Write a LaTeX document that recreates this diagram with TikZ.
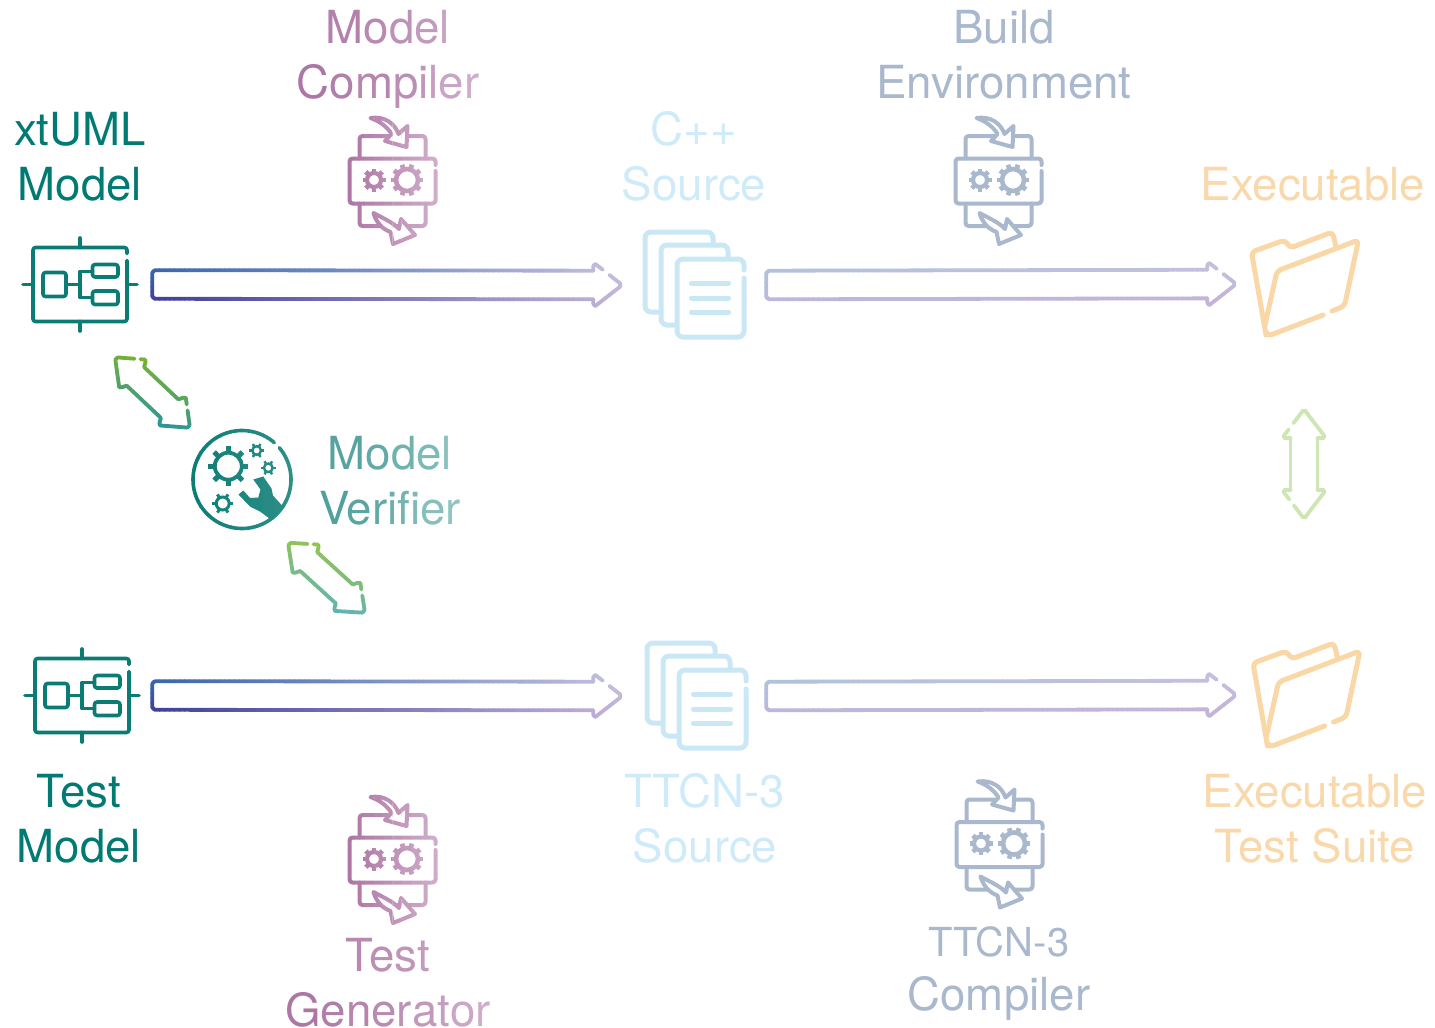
\documentclass[tikz,border=0pt]{standalone}
\usepackage{fontspec}
\setmainfont{TeX Gyre Heros}
\usetikzlibrary{calc}
\definecolor{tealc}{HTML}{0A7C74}
\definecolor{tealtxt}{HTML}{007A72}
\definecolor{docc}{HTML}{C9E7F5}
\definecolor{doctxt}{HTML}{CFEBFA}
\definecolor{foldc}{HTML}{F9D7A6}
\definecolor{foldtxt}{HTML}{F9D8AC}
\definecolor{slatec}{HTML}{A9B8CD}
\definecolor{plumL}{HTML}{AB73A2}
\definecolor{plumR}{HTML}{D1B0CC}
\definecolor{verL}{HTML}{4C9D99}
\definecolor{verR}{HTML}{93C7C4}
\definecolor{iblue}{HTML}{3A66AD}
\definecolor{iindigo}{HTML}{40409A}
\definecolor{lavT}{HTML}{C4C0DE}
\definecolor{lavB}{HTML}{C4B4D8}
\definecolor{slT}{HTML}{B2C2DB}
\definecolor{slB}{HTML}{BAB8DC}
\definecolor{greenA}{HTML}{88B81F}
\definecolor{blueA}{HTML}{1B8FB0}
\definecolor{greenB}{HTML}{9CC73F}
\definecolor{blueB}{HTML}{58B0C8}
\definecolor{paleV}{HTML}{CDE6B4}
\ExplSyntaxOn
\NewDocumentCommand\gradtext{mmmmm}{
  \int_set:Nn \l_tmpa_int {\tl_count:n{#5}}
  \int_zero:N \l_tmpb_int
  \tl_map_inline:nn {#5}{
    \edef\gtmix{#2!\fp_eval:n{round(100*(#3+(#4-#3)*(\l_tmpb_int+0.5)/\l_tmpa_int),1)}!#1}
    \textcolor{\gtmix}{##1}
    \int_incr:N \l_tmpb_int
  }
}
\ExplSyntaxOff
% ---------- gradient outline arrows: frame + subdivided segments
\newcommand\setframe[3]{%
  \path let \p1=(#1), \p2=(#2), \n1={veclen(\x2-\x1,\y2-\y1)} in \pgfextra{%
    \pgfmathsetmacro\tmpa{\x1}\xdef\frAx{\tmpa}%
    \pgfmathsetmacro\tmpa{\y1}\xdef\frAy{\tmpa}%
    \pgfmathsetmacro\tmpa{\n1}\xdef\frL{\tmpa}%
    \pgfmathsetmacro\tmpa{(\x2-\x1)/\n1}\xdef\frUx{\tmpa}%
    \pgfmathsetmacro\tmpa{(\y2-\y1)/\n1}\xdef\frUy{\tmpa}%
    \xdef\frH{#3}%
  };%
}
\newcommand\setcols[4]{\colorlet{cTL}{#1}\colorlet{cTR}{#2}\colorlet{cBL}{#3}\colorlet{cBR}{#4}}
\newcommand\gseg[4]{%
  \pgfmathsetmacro\gsA{#1}\pgfmathsetmacro\gtA{#2}\pgfmathsetmacro\gsB{#3}\pgfmathsetmacro\gtB{#4}%
  \pgfmathsetmacro\gl{veclen(\gsB-\gsA,\gtB-\gtA)}%
  \pgfmathtruncatemacro\gn{max(1,ceil(\gl/5))}%
  \foreach \k in {1,...,\gn}{%
    \pgfmathsetmacro\fa{(\k-1)/\gn}\pgfmathsetmacro\fb{\k/\gn}%
    \pgfmathsetmacro\sa{\gsA+(\gsB-\gsA)*\fa}%
    \pgfmathsetmacro\ta{\gtA+(\gtB-\gtA)*\fa}%
    \pgfmathsetmacro\sb{\gsA+(\gsB-\gsA)*\fb}%
    \pgfmathsetmacro\tb{\gtA+(\gtB-\gtA)*\fb}%
    \pgfmathsetmacro\pp{min(100,max(0,100*(0.5*\sa/\frL+0.5*\sb/\frL)))}%
    \pgfmathsetmacro\qq{min(100,max(0,50*(1+(0.5*\ta+0.5*\tb)/\frH)))}%
    \colorlet{gtop}{cTR!\pp!cTL}\colorlet{gbot}{cBR!\pp!cBL}\colorlet{gmix}{gtop!\qq!gbot}%
    \pgfmathsetmacro\xa{\frAx+\sa*\frUx-\ta*\frUy}%
    \pgfmathsetmacro\ya{\frAy+\sa*\frUy+\ta*\frUx}%
    \pgfmathsetmacro\xb{\frAx+\sb*\frUx-\tb*\frUy}%
    \pgfmathsetmacro\yb{\frAy+\sb*\frUy+\tb*\frUx}%
    \draw[outl,gmix] (\xa pt,\ya pt) -- (\xb pt,\yb pt);%
  }%
}
% #1 from #2 to #3-#6 corner colours
\newcommand\mainarrow[6]{%
  \setframe{#1}{#2}{14.3}\setcols{#3}{#4}{#5}{#6}%
  \gseg{2.5}{14.3}{\frL-29}{14.3}%
  \gseg{\frL-29}{14.3}{\frL-29}{19}%
  \gseg{\frL-29}{19}{\frL-27}{21}%
  \gseg{\frL-27}{21}{\frL-19.5}{15.2}%
  \gseg{\frL-13}{10.1}{\frL-2}{1.5}%
  \gseg{\frL-2}{1.5}{\frL-2}{-1.5}%
  \gseg{\frL-2}{-1.5}{\frL-27}{-21}%
  \gseg{\frL-27}{-21}{\frL-29}{-19}%
  \gseg{\frL-29}{-19}{\frL-29}{-14.3}%
  \gseg{\frL-29}{-14.3}{2.5}{-14.3}%
  \gseg{2.5}{-14.3}{0}{-11.8}%
  \gseg{0}{-11.8}{0}{11.8}%
  \gseg{0}{11.8}{2.5}{14.3}%
}
\newcommand\dblarrow[8]{%
  \setframe{#1}{#2}{#4}%
  \pgfmathsetmacro\pw{#3}\pgfmathsetmacro\ph{#4}\pgfmathsetmacro\pl{#5}\pgfmathsetmacro\pn{#6}%
  \dblbody{#7}{#8}%
}
\newcommand\dblbody[2]{\dblbodyb#1;#2;}
\def\dblbodyb#1/#2;#3/#4;{%
  \gseg{2}{\ph*2/\pl}{\pl*#1}{\ph*#1}%
  \gseg{\pl*#2}{\ph*#2}{\pl-2}{\ph-2*\ph/\pl}%
  \gseg{\pl-2}{\ph-2*\ph/\pl}{\pl}{\ph-3}%
  \gseg{\pl}{\ph-3}{\pn}{\pw}%
  \gseg{\pn}{\pw}{\frL-\pn}{\pw}%
  \gseg{\frL-\pn}{\pw}{\frL-\pl}{\ph-3}%
  \gseg{\frL-\pl}{\ph-3}{\frL-\pl+2}{\ph-2*\ph/\pl}%
  \gseg{\frL-\pl+2}{\ph-2*\ph/\pl}{\frL-\pl+\pl*#3}{\ph*(1-#3)}%
  \gseg{\frL-\pl+\pl*#4}{\ph*(1-#4)}{\frL-2}{\ph*2/\pl}%
  \gseg{\frL-2}{\ph*2/\pl}{\frL-2}{-\ph*2/\pl}%
  \gseg{\frL-2}{-\ph*2/\pl}{\frL-\pl+2}{-\ph+2*\ph/\pl}%
  \gseg{\frL-\pl+2}{-\ph+2*\ph/\pl}{\frL-\pl}{-\ph+3}%
  \gseg{\frL-\pl}{-\ph+3}{\frL-\pn}{-\pw}%
  \gseg{\frL-\pn}{-\pw}{\pn}{-\pw}%
  \gseg{\pn}{-\pw}{\pl}{-\ph+3}%
  \gseg{\pl}{-\ph+3}{\pl-2}{-\ph+2*\ph/\pl}%
  \gseg{\pl-2}{-\ph+2*\ph/\pl}{2}{-\ph*2/\pl}%
  \gseg{2}{-\ph*2/\pl}{2}{\ph*2/\pl}%
}
% ---------- strip gradient for icons
\newcommand\stripped[5]{% x0, x1, colA, colB, code
  \pgfmathsetmacro\sdx{(#2-#1)/10}%
  \foreach \i in {0,...,9}{%
    \pgfmathsetmacro\sxa{#1+\i*\sdx-0.2}%
    \pgfmathsetmacro\sxb{#1+(\i+1)*\sdx+0.2}%
    \pgfmathsetmacro\sp{(\i+0.5)*10}%
    \colorlet{icol}{#4!\sp!#3}%
    \begin{scope}
      \clip (\sxa,-80) rectangle (\sxb,80);
      #5
    \end{scope}
  }%
}
\newcommand\gearat[7]{% cx cy ringr outerr n linewidth toothwidth
  \draw[icol,line width=#6pt] (#1,#2) circle[radius=#3];
  \pgfmathsetmacro\gstep{360/#5}%
  \foreach \ga in {1,...,#5}{%
    \pgfmathsetmacro\gan{\ga*\gstep}%
    \draw[icol,line width=#7pt,line cap=butt] ($(#1,#2)+(\gan:#3)$) -- ($(#1,#2)+(\gan:#4)$);
  }%
}
\newcommand\compicon{%
  \begin{scope}[ic/.style={icol,line width=4pt,line cap=round,line join=round,rounded corners=3pt}]
  \draw[ic] (43,-10) -- (43,22.5) -- (-43,22.5) -- (-43,-22.5) -- (43,-22.5) -- (43,-16);
  \draw[ic] (-33,-22.5) -- (-33,-45) -- (33,-45) -- (33,-22.5);
  \draw[ic] (-33,22.5) -- (-33,45) -- (33,45) -- (33,22.5);
  \draw[icol,fill=white,line width=4pt,line join=round] (-22,-63) .. controls (-8,-65) and (2,-58) .. (6,-47) -- (15,-55) -- (14,-34) -- (-7.5,-40) -- (-1,-47) .. controls (-5,-54) and (-13,-60) .. cycle;
  \draw[icol,fill=white,line width=4pt,line join=round] (-19,32) .. controls (-10,37) and (0,41) .. (6.5,48) -- (8.5,38) -- (22.5,54) -- (0.5,63) -- (-2,51) .. controls (-10,48) and (-16,42) .. cycle;
  \gearat{-18.5}{-1}{7}{11.5}{8}{4.2}{4.6}
  \gearat{14.5}{-1}{11}{16}{10}{4.6}{4.8}
  \end{scope}
}
\newcommand\modelicon{%
  \begin{scope}[ic/.style={tealc,line width=3.6pt,line cap=round,line join=round,rounded corners=2.5pt}]
  \draw[ic] (47,-24) -- (47,37) -- (-47,37) -- (-47,-37) -- (47,-37) -- (47,-31);
  \draw[ic] (0,-46.5) -- (0,-37);
  \draw[ic] (0,37) -- (0,46.5);
  \draw[ic] (-57,0) -- (-47,0);
  \draw[ic] (47,0) -- (57,0);
  \draw[ic] (-37,-12) rectangle (-14,12);
  \draw[ic] (12.5,-20) rectangle (38,-7.5);
  \draw[ic] (12.5,6.5) rectangle (38,20);
  \draw[ic] (-14,0) -- (0,0);
  \draw[ic,rounded corners=0pt] (12.5,-13) -- (0,-13) -- (0,13) -- (12.5,13);
  \end{scope}
}
\newcommand\docicon{%
  \begin{scope}[ic/.style={docc,line width=5pt,line cap=round,line join=round,rounded corners=6pt}]
  \draw[ic] (-36,27) -- (-50,27) -- (-50,-53) -- (18,-53) -- (18,-42);
  \draw[ic] (-20,40) -- (-34,40) -- (-34,-40) -- (33,-40) -- (33,-28);
  \draw[ic] (49,-7) -- (49,52) -- (-18,52) -- (-18,-26) -- (49,-26) -- (49,-15);
  \draw[ic] (-3.5,-2) -- (33.5,-2);
  \draw[ic] (-3.5,13) -- (33.5,13);
  \draw[ic] (-3.5,27) -- (33.5,27);
  \end{scope}
}
\newcommand\foldicon{%
  \begin{scope}[ic/.style={foldc,line width=5pt,line cap=round,line join=round,rounded corners=4pt}]
  \draw[ic] (-39.5,51) -- (-54,-32) -- (-20.5,-44) -- (-15.5,-36) -- (27,-52) -- (30.5,-37);
  \draw[ic] (-40.5,41) -- (-28.5,-13) -- (53,-44) -- (39,22) -- (26.5,27);
  \draw[ic] (17.5,31) -- (-37.5,52) -- (-39.5,48);
  \end{scope}
}
\newcommand\verifyicon{%
  \begin{scope}[ic/.style={icol,line width=3.6pt,line cap=round,line join=round}]
  \draw[ic] plot[domain=-400.5:-48.8,samples=90] (\x:49);
  \gearat{-13.7}{-13.3}{13.5}{20}{8}{3.8}{5}
  \gearat{14.7}{-29}{4.3}{7.5}{6}{2.4}{2.4}
  \gearat{26.3}{-11.7}{4.3}{7.5}{6}{2.4}{2.4}
  \gearat{-19.3}{24}{6.5}{10.5}{6}{3}{3}
  \fill[icol] (11.3,0) -- (21.3,-3) -- (29.5,9) -- (31,16) -- (40.5,26.5) -- (29.5,40.5) -- (18,32) -- (8,27) -- (-3.5,15) -- (1.3,11) -- (8,18.5) -- (16.3,18) -- (18.5,10) -- cycle;
  \end{scope}
}
\tikzset{
  outl/.style={line width=3.8pt,line cap=round},
  iconbox/.style={inner sep=0pt,minimum width=#1},
  lab/.style={inner sep=0pt,align=center,anchor=base,font=\fontsize{45.6}{55}\selectfont},
}
\begin{document}
\begin{tikzpicture}[x=1pt,y=-1pt]
\useasboundingbox (0,0) rectangle (1435,1028);
% anchor nodes of the icons
\node[iconbox=116pt,minimum height=95pt] (xtuml) at (80,284.5) {};
\node[iconbox=104pt,minimum height=110pt] (csrc) at (695,285) {};
\node[iconbox=110pt,minimum height=108pt] (exe) at (1305.5,284) {};
\node[iconbox=116pt,minimum height=95pt] (tmodel) at (82,695.5) {};
\node[iconbox=104pt,minimum height=110pt] (tsrc) at (697,696) {};
\node[iconbox=110pt,minimum height=108pt] (tsuite) at (1307,695) {};
\node[iconbox=104pt,minimum height=104pt] (verifier) at (242,479.5) {};
\node[iconbox=92pt,minimum height=130pt] (mcomp) at (392.5,181) {};
\node[iconbox=92pt,minimum height=130pt] (build) at (998.5,181) {};
\node[iconbox=92pt,minimum height=130pt] (tgen) at (392.5,860) {};
\node[iconbox=92pt,minimum height=130pt] (tcomp) at (999.5,844.5) {};
% icons
\begin{scope}[shift={(xtuml.center)}]\modelicon\end{scope}
\begin{scope}[shift={(tmodel.center)}]\modelicon\end{scope}
\begin{scope}[shift={(csrc.center)}]\docicon\end{scope}
\begin{scope}[shift={(tsrc.center)}]\docicon\end{scope}
\begin{scope}[shift={(exe.center)}]\foldicon\end{scope}
\begin{scope}[shift={(tsuite.center)}]\foldicon\end{scope}
\begin{scope}[shift={(mcomp.center)}]\stripped{-47}{47}{plumL}{plumR}{\compicon}\end{scope}
\begin{scope}[shift={(tgen.center)}]\stripped{-47}{47}{plumL}{plumR}{\compicon}\end{scope}
\begin{scope}[shift={(build.center)}]\colorlet{icol}{slatec}\compicon\end{scope}
\begin{scope}[shift={(tcomp.center)}]\colorlet{icol}{slatec}\compicon\end{scope}
\begin{scope}[shift={(verifier.center)}]\stripped{-53}{53}{tealc}{tealc!85!white}{\verifyicon}\end{scope}
% labels
\node[lab] (lmc) at (388,98) {\gradtext{plumL}{plumR}{0.16}{0.84}{Model}\\\gradtext{plumL}{plumR}{0}{1}{Compiler}};
\node[lab,text=tealtxt] (lxt) at (80,200) {xtUML\\Model};
\node[lab,text=doctxt] (lcs) at (694,200) {C++\\Source};
\node[lab,text=slatec] (lbe) at (1004,98) {Build\\Environment};
\node[lab,text=foldtxt] (lex) at (1313,200) {Executable};
\node[lab] (lmv) at (390,524) {\gradtext{verL}{verR}{0.05}{0.95}{Model}\\\gradtext{verL}{verR}{0}{1}{V{\kern-3pt e}rifier}};
\node[lab,text=tealtxt] (ltm) at (79,862) {Test\\Model};
\node[lab,text=doctxt] (lts) at (705,862) {TTCN-3\\Source};
\node[lab,text=foldtxt] (lets) at (1315,862) {Executable\\Test Suite};
\node[lab] (ltg) at (388,1026) {\gradtext{plumL}{plumR}{0.3}{0.7}{T{\kern-4pt e}st}\\\gradtext{plumL}{plumR}{0}{1}{Generator}};
\node[lab,text=slatec,font=\fontsize{40}{40}\selectfont] (ltc1) at (999,956) {TTCN-3};
\node[lab,text=slatec] (ltc2) at (999,1010) {Compiler};
% connectors
\mainarrow{$(xtuml.east)+(14,0)$}{$(csrc.west)+(-20.5,0)$}{iblue}{lavT}{iindigo}{lavB}
\mainarrow{$(csrc.east)+(19,0)$}{$(exe.west)+(-14,0)$}{slT}{lavT}{slB}{lavB}
\mainarrow{$(tmodel.east)+(12,0)$}{$(tsrc.west)+(-22.5,0)$}{iblue}{lavT}{iindigo}{lavB}
\mainarrow{$(tsrc.east)+(17,0)$}{$(tsuite.west)+(-15.5,0)$}{slT}{lavT}{slB}{lavB}
\setcols{greenA}{greenA!50!blueA}{greenA!55!blueA}{blueA}
\dblarrow{$(xtuml.south)+(35,25)$}{$(verifier.north)+(-52,0.5)$}{12.7}{20.5}{25.5}{28}{0.6/0.78}{0.28/0.46}
\setcols{greenB}{greenB!50!blueB}{greenB!55!blueB}{blueB}
\dblarrow{$(verifier.south)+(46,11)$}{$(tgen.north)+(-27.5,-182)$}{12.7}{20.5}{25.5}{28}{0.6/0.78}{0.28/0.46}
\setcols{paleV}{paleV}{paleV}{paleV}
\dblarrow{$(tsuite.north)+(-3,-122)$}{$(exe.south)+(-1.5,71)$}{13.5}{22}{29}{29}{0.46/0.67}{0.3/0.52}
\end{tikzpicture}
\end{document}
